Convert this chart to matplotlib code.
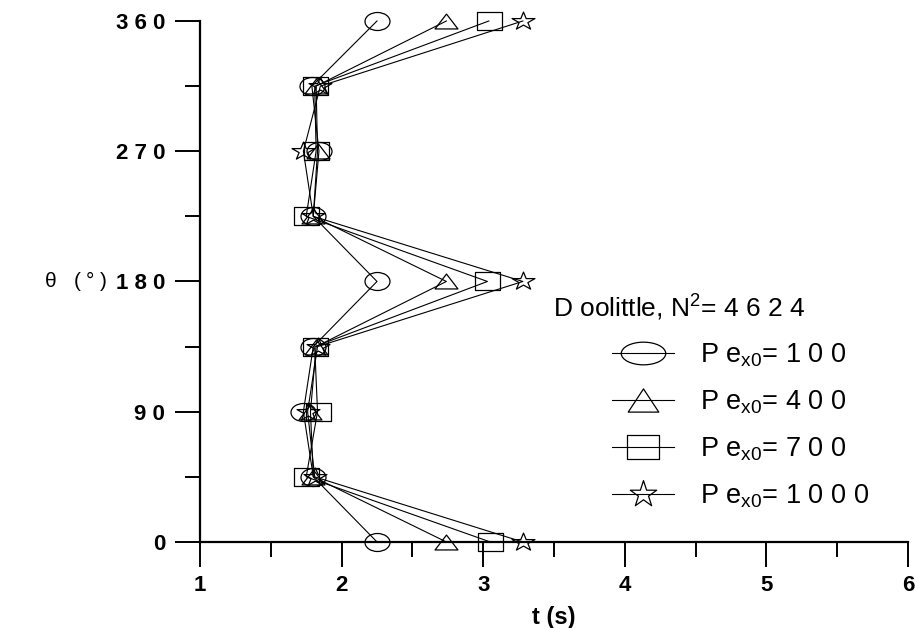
import matplotlib
matplotlib.use("Agg")
import matplotlib.pyplot as plt
from matplotlib.path import Path
from matplotlib.markers import MarkerStyle
from matplotlib.transforms import Affine2D
from matplotlib.lines import Line2D

plt.rcParams['font.family'] = ['Liberation Sans', 'DejaVu Sans']
plt.rcParams['mathtext.default'] = 'regular'

# angle positions (deg) and time values
theta = [0, 45, 90, 135, 180, 225, 270, 315, 360]
t_pe100 = [2.25, 1.80, 1.73, 1.80, 2.25, 1.80, 1.84, 1.79, 2.25]
t_pe400 = [2.74, 1.80, 1.78, 1.82, 2.74, 1.80, 1.83, 1.82, 2.74]
t_pe700 = [3.05, 1.75, 1.83, 1.81, 3.03, 1.75, 1.82, 1.81, 3.04]
t_pe1000 = [3.28, 1.81, 1.76, 1.83, 3.28, 1.80, 1.73, 1.85, 3.28]
series_labels = ['P e$_{x0}$= 1 0 0', 'P e$_{x0}$= 4 0 0',
                 'P e$_{x0}$= 7 0 0', 'P e$_{x0}$= 1 0 0 0']
x_ticks = [1, 2, 3, 4, 5, 6]
y_ticks = [0, 90, 180, 270, 360]


def squashed(base, sy):
    # flatten a marker path so it is wider than tall, like the original
    ms = MarkerStyle(base)
    p = ms.get_path().transformed(ms.get_transform())
    return p.transformed(Affine2D().scale(1.0, sy))


def ellipse(sy):
    return Path.unit_circle().transformed(Affine2D().scale(1.0, sy))


# (marker, size in pt) for the plot and for the legend
plot_marks = [(ellipse(0.72), 18), (squashed('^', 0.65), 16.5),
              (squashed('s', 0.72), 18), (squashed('*', 0.78), 16.5)]
legend_marks = [(ellipse(0.51), 32), (squashed('^', 0.76), 22),
                (squashed('s', 0.78), 22.5), (squashed('*', 1.0), 20)]

fig = plt.figure(figsize=(9.15, 6.28), dpi=100)
ax = fig.add_axes([0.2186, 0.137, 0.7737, 0.8296])

all_t = [t_pe100, t_pe400, t_pe700, t_pe1000]
for t, (m, ms) in zip(all_t, plot_marks):
    ax.plot(t, theta, color='black', lw=0.8, marker=m, markersize=ms,
            markerfacecolor='none', markeredgecolor='black', markeredgewidth=0.9,
            clip_on=False)

ax.set_xlim(1, 6)
ax.set_ylim(0, 360)
for s in ['top', 'right']:
    ax.spines[s].set_visible(False)
ax.spines['left'].set_linewidth(1.6)
ax.spines['bottom'].set_linewidth(1.6)

ax.set_xticks(x_ticks)
ax.set_xticks([1.5, 2.5, 3.5, 4.5, 5.5], minor=True)
ax.set_yticks(y_ticks)
ax.set_yticks([45, 135, 225, 315], minor=True)
ax.set_xticklabels([str(v) for v in x_ticks], fontsize=16, fontweight='bold')
ax.set_yticklabels([' '.join(str(v)) for v in y_ticks], fontsize=16, fontweight='bold')
ax.tick_params(axis='both', which='major', direction='out', length=18, width=1.4, pad=7)
ax.tick_params(axis='x', which='major', pad=6)
ax.tick_params(axis='both', which='minor', direction='out', length=11, width=1.4)

ax.set_xlabel('t (s)', fontsize=17, fontweight='bold', labelpad=7)
ax.set_ylabel(r'$\theta$   ( ° )', fontsize=15, rotation=0, fontweight='light',
              va='center', ha='center')
ax.yaxis.set_label_coords(-0.175, 0.5)

handles = [Line2D([], [], color='black', lw=0.8, marker=m, markersize=ms,
                  markerfacecolor='none', markeredgecolor='black',
                  markeredgewidth=0.9) for m, ms in legend_marks]
ax.legend(handles, series_labels, loc='upper left', bbox_to_anchor=(0.582, 0.385),
          frameon=False, fontsize=19.5, handlelength=2.3, labelspacing=0.72,
          handletextpad=0.95, borderpad=0, borderaxespad=0)
ax.text(0.499, 0.449, 'D oolittle, N$^{2}$= 4 6 2 4', transform=ax.transAxes,
        fontsize=19, va='center', ha='left')

fig.savefig('out.png', dpi=100)
